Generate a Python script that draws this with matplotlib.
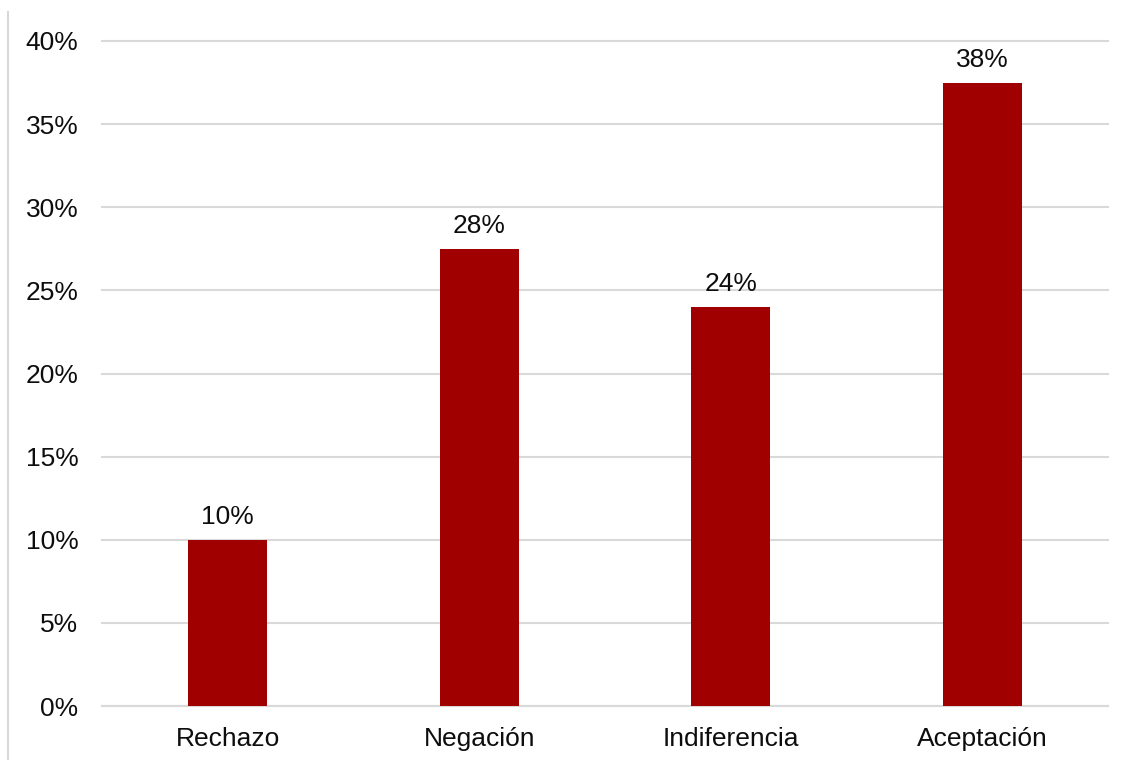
import matplotlib
matplotlib.use("Agg")
import matplotlib.pyplot as plt
from matplotlib.lines import Line2D
from matplotlib.ticker import PercentFormatter

categories = ["Rechazo", "Negación", "Indiferencia", "Aceptación"]
values = [0.10, 0.275, 0.24, 0.375]
labels = ["10%", "28%", "24%", "38%"]
yticks = [0, 0.05, 0.10, 0.15, 0.20, 0.25, 0.30, 0.35, 0.40]

plt.rcParams['font.family'] = ['Liberation Sans', 'DejaVu Sans']

fig = plt.figure(figsize=(11.27, 7.6), dpi=100)
ax = fig.add_axes([102/1127, 1-706/760, (1108-102)/1127, (706-41)/760])

x = list(range(len(categories)))
bars = ax.bar(x, values, width=0.315, color="#A00000", zorder=3)
for b, lab in zip(bars, labels):
    ax.annotate(lab, (b.get_x() + b.get_width()/2, b.get_height()),
                xytext=(0, 11), textcoords="offset pixels",
                ha="center", va="bottom", fontsize=19, color="#0d0d0d")

ax.set_xlim(-0.5, 3.5)
ax.set_ylim(0, 0.40)
ax.set_yticks(yticks)
ax.yaxis.set_major_formatter(PercentFormatter(1.0, decimals=0))
ax.set_xticks(x)
ax.set_xticklabels(categories)
ax.grid(axis="y", color="#d9d9d9", linewidth=1.5, zorder=0)
for gl in ax.get_ygridlines():
    gl.set_clip_on(False)
for s in ["top", "right", "left"]:
    ax.spines[s].set_visible(False)
ax.spines["bottom"].set_color("#d9d9d9")
ax.spines["bottom"].set_linewidth(1.5)
ax.tick_params(axis="both", length=0, labelsize=19, colors="#0d0d0d")
ax.tick_params(axis="y", pad=17)
ax.tick_params(axis="x", pad=15)

fig.add_artist(Line2D([8/1127, 8/1127], [0, 1-12/760], transform=fig.transFigure,
                      color="#d9d9d9", linewidth=1.5))

fig.savefig("out.png", dpi=100)
